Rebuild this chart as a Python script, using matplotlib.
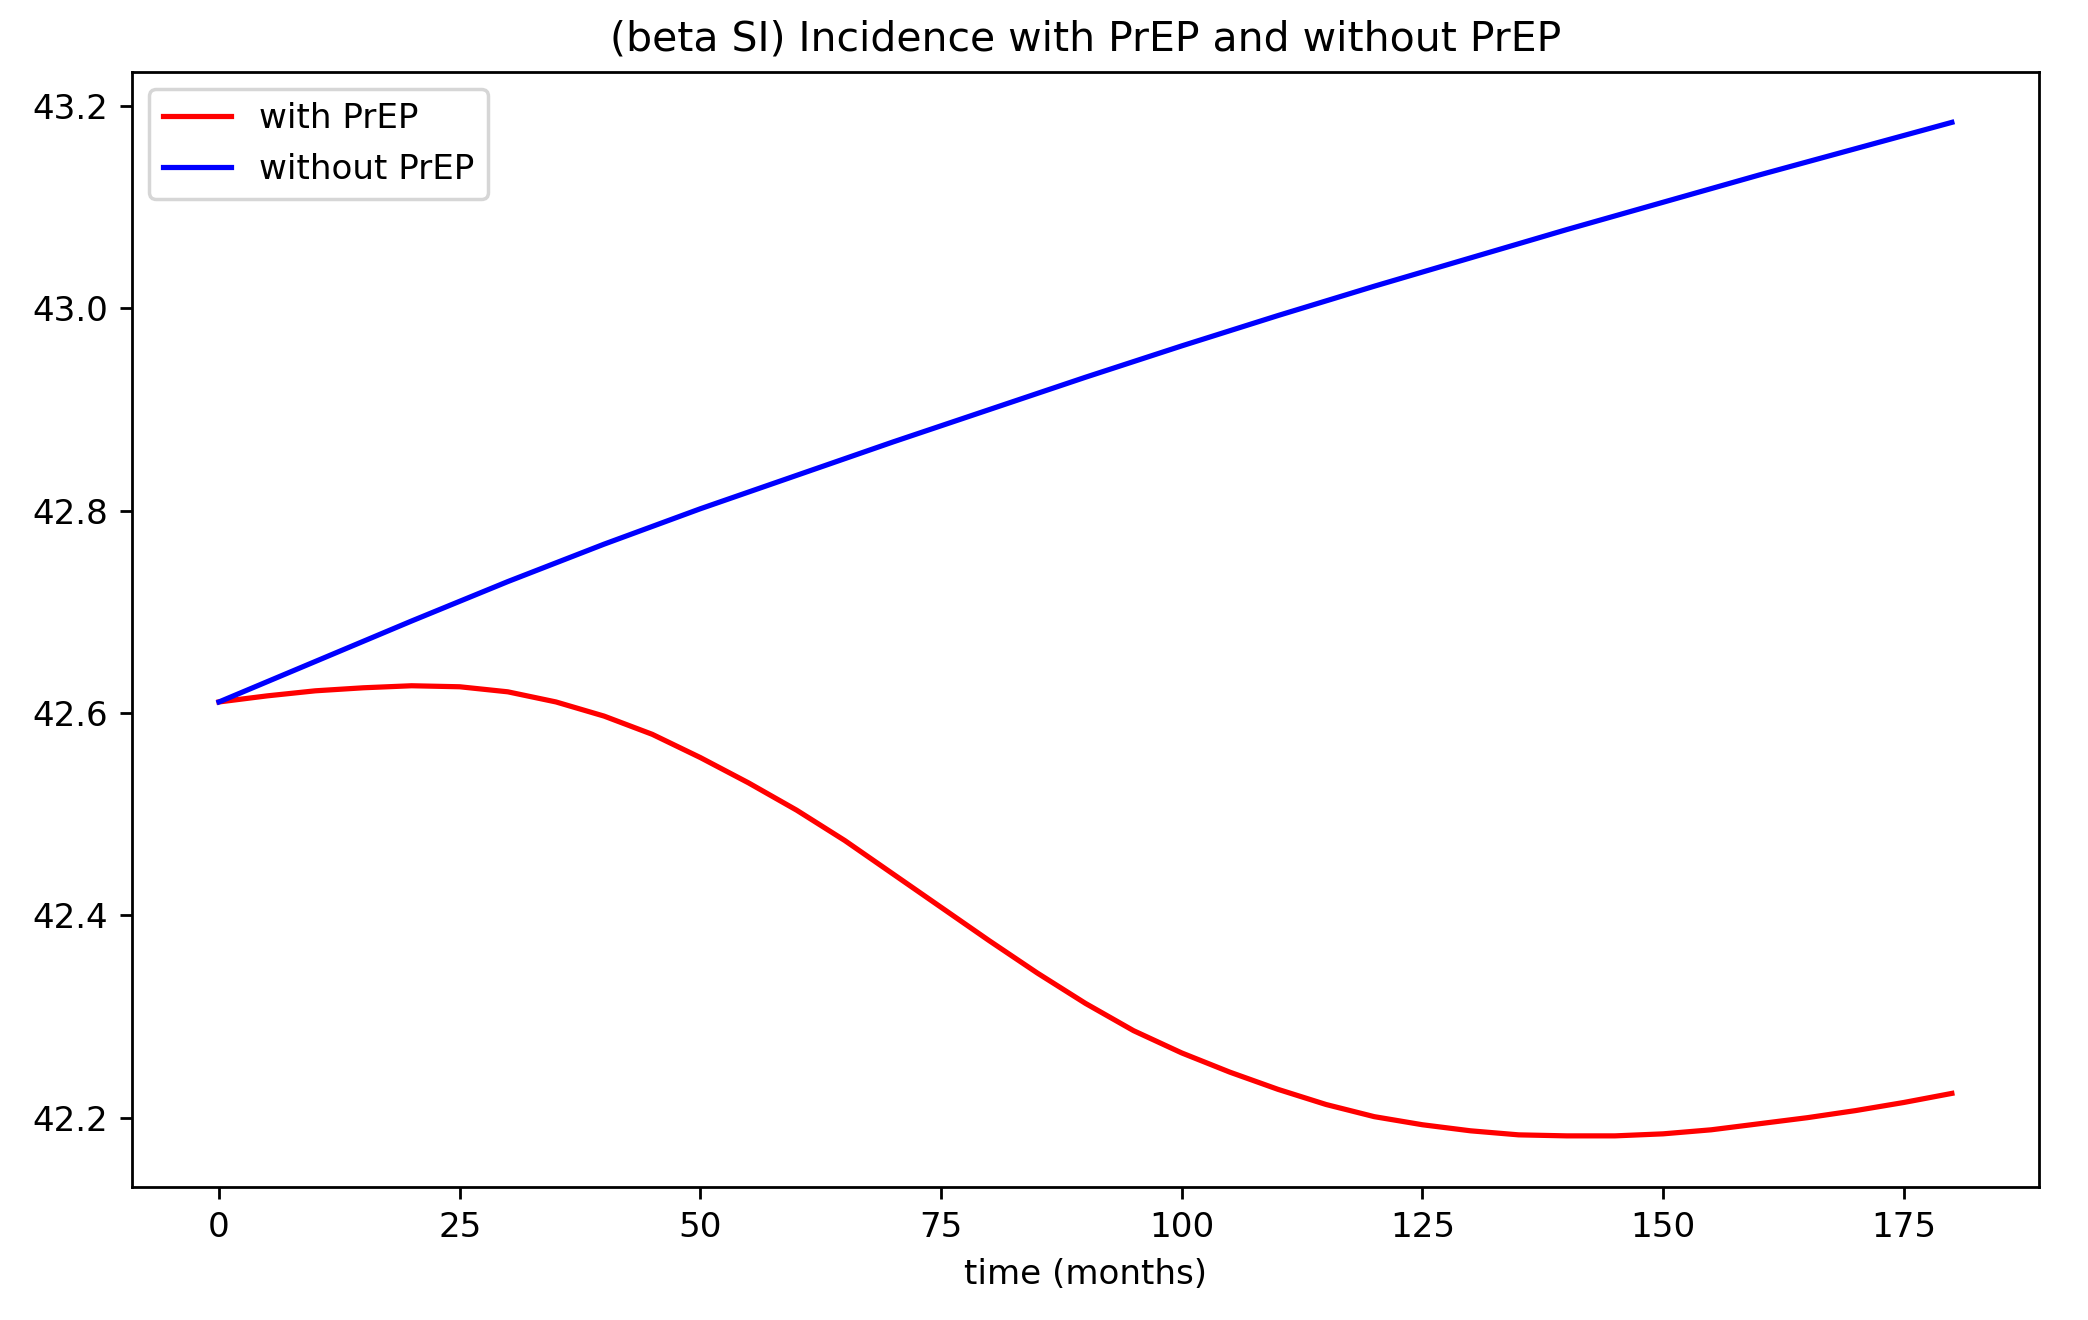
import matplotlib
matplotlib.use("Agg")
import matplotlib.pyplot as plt

t_without = [0, 10, 20, 30, 40, 50, 60, 70, 80, 90, 100, 110, 120, 130, 140, 150, 160, 170, 180]
without_prep = [42.611, 42.651, 42.691, 42.730, 42.767, 42.802, 42.835, 42.868, 42.900, 42.932,
                42.963, 42.993, 43.022, 43.050, 43.078, 43.105, 43.132, 43.158, 43.184]

t_with = [0, 5, 10, 15, 20, 25, 30, 35, 40, 45, 50, 55, 60, 65, 70, 75, 80, 85, 90, 95,
          100, 105, 110, 115, 120, 125, 130, 135, 140, 145, 150, 155, 160, 165, 170, 175, 180]
with_prep = [42.611, 42.617, 42.622, 42.625, 42.627, 42.626, 42.621, 42.611, 42.597, 42.579,
             42.556, 42.531, 42.504, 42.474, 42.441, 42.408, 42.375, 42.343, 42.313, 42.286,
             42.264, 42.245, 42.228, 42.213, 42.201, 42.193, 42.187, 42.183, 42.182, 42.182,
             42.184, 42.188, 42.194, 42.200, 42.207, 42.215, 42.224]

plt.rcParams['font.size'] = 9.84

fig = plt.figure(figsize=(8.352, 5.28), dpi=250)
ax = fig.add_axes([0.0634, 0.1011, 0.9129, 0.8446])
ax.plot(t_with, with_prep, color="red", label="with PrEP")
ax.plot(t_without, without_prep, color="blue", label="without PrEP")
ax.set_title("(beta SI) Incidence with PrEP and without PrEP", fontsize=11.8)
ax.set_xlabel("time (months)")
ax.legend(loc="upper left")
fig.savefig("out.png", dpi=250)
